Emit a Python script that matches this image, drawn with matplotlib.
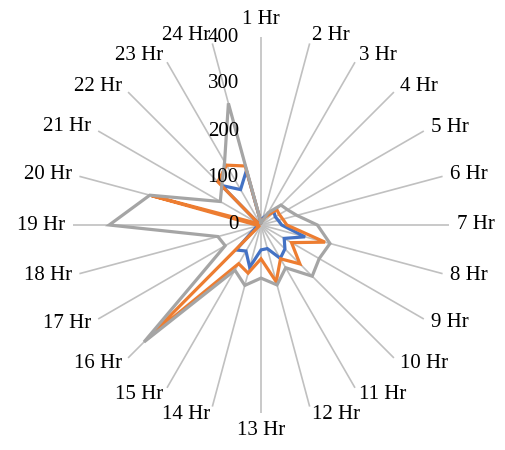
import numpy as np
import matplotlib
matplotlib.use("Agg")
import matplotlib.pyplot as plt

categories = [f"{i} Hr" for i in range(1, 25)]
series_blue = [5, 15, 25, 39, 35, 38, 44, 97, 57, 72, 82, 52, 53, 93, 64, 75, 15, 8, 5, 5, 5, 119, 87, 120]
series_orange = [5, 10, 20, 47, 45, 48, 55, 141, 75, 117, 83, 125, 72, 106, 95, 340, 5, 5, 10, 241, 5, 130, 147, 130]
series_gray = [5, 8, 30, 60, 65, 79, 120, 152, 143, 154, 105, 132, 113, 133, 111, 352, 88, 95, 323, 245, 100, 118, 155, 268]
r_ticks = [0, 100, 200, 300, 400]
colors = ["#4472C4", "#ED7D31", "#A5A5A5"]

plt.rcParams['font.family'] = ['Liberation Serif', 'DejaVu Serif']

W, H = 505, 450
fig = plt.figure(figsize=(W / 100, H / 100), dpi=100)
cx, cy, R = 261, 225, 188
ax = fig.add_axes([(cx - R) / W, (H - cy - R) / H, 2 * R / W, 2 * R / H], projection='polar')
ax.set_theta_zero_location('N')
ax.set_theta_direction(-1)
ax.set_ylim(0, r_ticks[-1])

n = len(categories)
theta = np.arange(n) * 2 * np.pi / n
ax.set_xticks(theta)
ax.set_xticklabels([])
ax.set_yticks(r_ticks)
ax.set_yticklabels([])
ax.yaxis.grid(False)
ax.xaxis.grid(True, color="#C0C0C0", linewidth=1.2)
ax.spines['polar'].set_visible(False)
ax.tick_params(length=0)
ax.set_facecolor('none')

for vals, c in zip([series_blue, series_orange, series_gray], colors):
    v = np.array(vals + vals[:1], dtype=float)
    t = np.concatenate([theta, theta[:1]])
    ax.plot(t, v, color=c, linewidth=2.3, solid_joinstyle='miter', zorder=3)

# category labels
gap = 8 * 72 / 100
for t, lab in zip(theta, categories):
    s, c = np.sin(t), np.cos(t)
    ha = 'left' if s > 0.01 else ('right' if s < -0.01 else 'center')
    va = 'bottom' if c > 0.99 else ('top' if c < -0.99 else 'center')
    ax.annotate(lab, xy=(t, r_ticks[-1]), xytext=(gap * s, gap * c), textcoords='offset points',
                ha=ha, va=va, fontsize=15, color='black', annotation_clip=False)

# radial tick labels
for v in r_ticks:
    ax.annotate(str(v), xy=(0, v), xytext=(-16, 0), textcoords='offset points',
                ha='right', va='center', fontsize=15, color='black', annotation_clip=False)

fig.savefig("out.png", dpi=100)
